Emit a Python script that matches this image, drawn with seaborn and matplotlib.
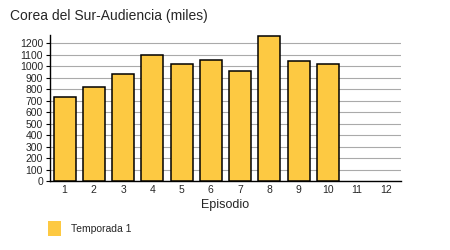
import matplotlib
matplotlib.use("Agg")
import matplotlib.pyplot as plt
import seaborn as sns
import pandas as pd
import numpy as np
from matplotlib.patches import Patch

episodes = ["1", "2", "3", "4", "5", "6", "7", "8", "9", "10", "11", "12"]
audience = [735, 815, 930, 1100, 1015, 1050, 960, 1265, 1040, 1020, np.nan, np.nan]
series_name = "Temporada 1"
title = "Corea del Sur-Audiencia (miles)"
xlabel = "Episodio"
yticks = list(range(0, 1300, 100))

df = pd.DataFrame({"Episodio": episodes, "Audiencia": audience})

sns.set_style("white")
plt.rcParams["font.family"] = ["Liberation Sans", "DejaVu Sans"]

fig = plt.figure(figsize=(4.5, 2.5), dpi=100)
ax = fig.add_axes([0.111, 0.276, 0.78, 0.584])

bar_color = "#FDC942"
sns.barplot(data=df, x="Episodio", y="Audiencia", order=episodes, color=bar_color,
            edgecolor="black", linewidth=1.1, width=0.75, saturation=1, ax=ax, zorder=3)

ax.set_ylim(0, 1270)
ax.set_xlim(-0.5, 11.5)
ax.set_yticks(yticks)
ax.set_yticklabels([str(v) for v in yticks], fontsize=7.5)
ax.tick_params(axis="x", labelsize=7.5, length=0, pad=3)
ax.tick_params(axis="y", length=3, width=0.8, pad=2, color="black", direction="out", left=True)
ax.yaxis.grid(True, color="#aaaaaa", linewidth=0.8, zorder=0)
ax.set_axisbelow(True)
for s in ["top", "right"]:
    ax.spines[s].set_visible(False)
for s in ["left", "bottom"]:
    ax.spines[s].set_color("black")
    ax.spines[s].set_linewidth(1.0)
ax.set_ylabel("")
ax.set_xlabel(xlabel, fontsize=9, labelpad=3)

fig.text(0.022, 0.935, title, fontsize=10, ha="left", va="center")

handle = Patch(facecolor=bar_color, edgecolor="none")
fig.legend([handle], [series_name], loc="center left", bbox_to_anchor=(0.085, 0.085),
           frameon=False, fontsize=7.5, handlelength=1.3, handleheight=1.8, handletextpad=0.9)

fig.savefig("out.png", dpi=100)
